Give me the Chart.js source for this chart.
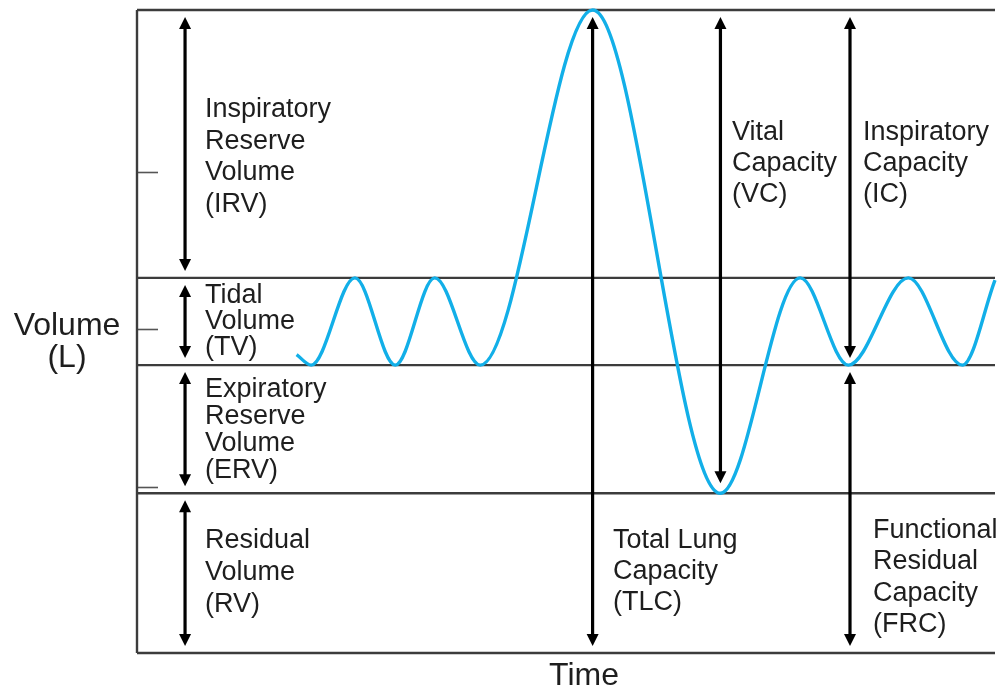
<!DOCTYPE html>
<html>
<head>
<meta charset="utf-8">
<script src="https://cdn.jsdelivr.net/npm/chart.js@4.4.1/dist/chart.umd.min.js"></script>
<style>
  html, body { margin: 0; padding: 0; background: #fff; }
  canvas { display: block; }
</style>
</head>
<body>
<canvas id="grafica" width="1000" height="691"></canvas>
<script>
// Curva de volumen pulmonar (tiempo en unidades arbitrarias, volumen en L)
const tiempo  = [18.6, 20.3, 25.4, 30.1, 34.7, 40.0, 53.1, 68.0, 77.3, 82.9, 89.9, 96.2, 100];
const volumen = [2.76, 2.66, 3.49, 2.66, 3.49, 2.66, 6.04, 1.44, 3.49, 2.66, 3.49, 2.66, 3.47];

// Niveles de referencia (L)
const niveles = [6.04, 3.49, 2.66, 1.44, -0.08];
const marcasY = [1.5, 3.0, 4.5];

// Flechas: posicion en el tiempo, volumen inicial y final
const flechasX     = [5.6, 5.6, 5.6, 5.6, 53.1, 68.0, 83.1, 83.1];
const flechasDesde = [6.04, 3.49, 2.66, 1.44, 6.04, 6.04, 6.04, 2.66];
const flechasHasta = [3.49, 2.66, 1.44, -0.08, -0.08, 1.44, 2.66, -0.08];

const textos = [
  ['Inspiratory', 'Reserve', 'Volume', '(IRV)'],
  ['Tidal', 'Volume', '(TV)'],
  ['Expiratory', 'Reserve', 'Volume', '(ERV)'],
  ['Residual', 'Volume', '(RV)'],
  ['Total Lung', 'Capacity', '(TLC)'],
  ['Vital', 'Capacity', '(VC)'],
  ['Inspiratory', 'Capacity', '(IC)'],
  ['Functional', 'Residual', 'Capacity', '(FRC)']
];
// colocacion de cada bloque de texto (px)
const posTextos = [
  {x: 205, y: 117, salto: 31.7},
  {x: 205, y: 303, salto: 26},
  {x: 205, y: 397, salto: 27},
  {x: 205, y: 548, salto: 32},
  {x: 613, y: 548, salto: 31},
  {x: 732, y: 140, salto: 31},
  {x: 863, y: 140, salto: 31},
  {x: 873, y: 538, salto: 31.3}
];

const fuente = '"Liberation Sans", Arial, Helvetica, sans-serif';

const lineasNivel = niveles.map(function(v) {
  return {
    data: [{x: 0, y: v}, {x: 100, y: v}],
    borderColor: '#3c3c3c',
    borderWidth: 2.4,
    pointRadius: 0,
    clip: false,
    order: 2
  };
});

const ejeIzq = {
  data: [{x: 0, y: niveles[0]}, {x: 0, y: niveles[niveles.length - 1]}],
  borderColor: '#3c3c3c',
  borderWidth: 2.4,
  pointRadius: 0,
  clip: false,
  order: 2
};

const curva = {
  data: tiempo.map(function(t, i) { return {x: t, y: volumen[i]}; }),
  borderColor: '#12afe8',
  borderWidth: 3.4,
  pointRadius: 0,
  cubicInterpolationMode: 'monotone',
  clip: false,
  order: 0
};

const dibujos = {
  id: 'dibujos',
  beforeDatasetsDraw: function(chart) {
    const ctx = chart.ctx;
    const x = chart.scales.x, y = chart.scales.y;
    // marcas del eje Y
    ctx.save();
    ctx.strokeStyle = '#555';
    ctx.lineWidth = 1.6;
    marcasY.forEach(function(v) {
      const py = Math.round(y.getPixelForValue(v)) + 0.5;
      ctx.beginPath();
      ctx.moveTo(x.getPixelForValue(0), py);
      ctx.lineTo(x.getPixelForValue(0) + 21, py);
      ctx.stroke();
    });
    ctx.restore();
  },
  afterDatasetsDraw: function(chart) {
    const ctx = chart.ctx;
    const x = chart.scales.x, y = chart.scales.y;
    ctx.save();
    ctx.strokeStyle = '#000';
    ctx.fillStyle = '#000';
    ctx.lineWidth = 3.2;
    for (let i = 0; i < flechasX.length; i++) {
      const px = x.getPixelForValue(flechasX[i]);
      const y1 = y.getPixelForValue(flechasDesde[i]) + 7;
      const y2 = y.getPixelForValue(flechasHasta[i]) - (i === 5 ? 10 : 7);
      ctx.beginPath();
      ctx.moveTo(px, y1 + 8);
      ctx.lineTo(px, y2 - 8);
      ctx.stroke();
      // puntas
      ctx.beginPath();
      ctx.moveTo(px, y1);
      ctx.lineTo(px - 6, y1 + 12);
      ctx.lineTo(px + 6, y1 + 12);
      ctx.closePath();
      ctx.fill();
      ctx.beginPath();
      ctx.moveTo(px, y2);
      ctx.lineTo(px - 6, y2 - 12);
      ctx.lineTo(px + 6, y2 - 12);
      ctx.closePath();
      ctx.fill();
    }
    // textos
    ctx.fillStyle = '#1e1e1e';
    ctx.font = '27px ' + fuente;
    ctx.textAlign = 'left';
    ctx.textBaseline = 'alphabetic';
    textos.forEach(function(lineas, k) {
      const p = posTextos[k];
      lineas.forEach(function(t, j) {
        ctx.fillText(t, p.x, p.y + j * p.salto);
      });
    });
    // titulos de ejes
    ctx.font = '32px ' + fuente;
    ctx.textAlign = 'center';
    ctx.fillText('Volume', 67, 335);
    ctx.fillText('(L)', 67, 367);
    ctx.fillText('Time', 584, 685);
    ctx.restore();
  }
};

new Chart(document.getElementById('grafica').getContext('2d'), {
  type: 'line',
  data: { datasets: [curva, ejeIzq].concat(lineasNivel) },
  options: {
    responsive: false,
    animation: false,
    layout: { padding: { left: 137, right: 5, top: 10, bottom: 38 } },
    plugins: { legend: { display: false }, tooltip: { enabled: false } },
    scales: {
      x: { type: 'linear', min: 0, max: 100, display: false },
      y: { type: 'linear', min: -0.08, max: 6.04, display: false }
    }
  },
  plugins: [dibujos]
});
</script>
</body>
</html>
